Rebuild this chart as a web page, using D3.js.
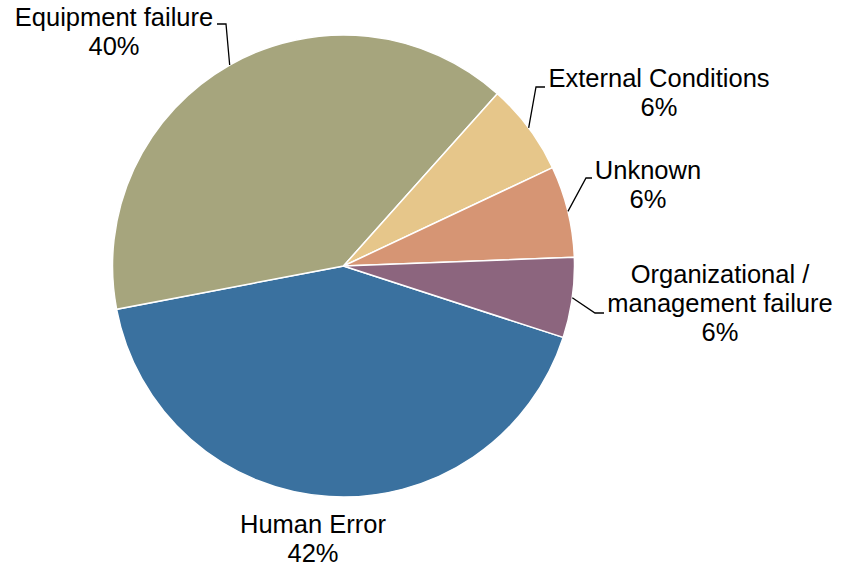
<!DOCTYPE html>
<html>
<head>
<meta charset="utf-8">
<title></title>
<style>
body { margin: 0; background: #fff; }
path.slice {
  stroke: #fff;
  stroke-width: 1.5px;
}
polyline.leader {
  fill: none;
  stroke: #000;
  stroke-width: 1.3px;
}
text {
  fill: #000;
  font-family: "Liberation Sans", Arial, sans-serif;
  font-size: 25.5px;
}
</style>
</head>
<body>
<script src="https://cdn.jsdelivr.net/npm/d3@7"></script>
<script>

// data, in drawing order (clockwise)
var categories = ["Human Error", "Equipment failure", "External Conditions", "Unknown", "Organizational / management failure"];
var shares = [42.0, 39.6, 6.4, 6.4, 5.6];
var colors = ["#3a719f", "#a6a57d", "#e6c68a", "#d69574", "#8c657e"];

// label lines (text split) and where each label sits
var labelLines = [
  ["Human Error"],
  ["Equipment failure"],
  ["External Conditions"],
  ["Unknown"],
  ["Organizational /", "management failure"]
];
var labelPos = [
  {x: 313, y: 533, leader: null},
  {x: 114, y: 26, leader: [[226, 24], [217, 24]]},
  {x: 659, y: 87, leader: [[536, 87], [545, 87]]},
  {x: 648, y: 179, leader: [[586, 178], [592, 178]]},
  {x: 720, y: 283, leader: [[595, 313], [604, 313]]}
];

var width = 853,
    height = 567,
    cx = 343.5,
    cy = 266,
    radius = 231,
    lineH = 29;

var startDeg = 108;
var total = d3.sum(shares);

var svg = d3.select("body").append("svg")
    .attr("width", width)
    .attr("height", height);

var pie = d3.pie()
    .sort(null)
    .startAngle(startDeg * Math.PI / 180)
    .endAngle(startDeg * Math.PI / 180 + 2 * Math.PI);

var arcs = pie(shares);

var arc = d3.arc()
    .innerRadius(0)
    .outerRadius(radius);

var g = svg.append("g")
    .attr("transform", "translate(" + cx + "," + cy + ")");

g.selectAll("path")
    .data(arcs)
    .enter()
    .append("path")
    .attr("class", "slice")
    .attr("d", arc)
    .style("fill", function(d, i) { return colors[i]; });

// leader lines from the slice edge at its mid angle
svg.selectAll("polyline")
    .data(arcs.filter(function(d, i) { return labelPos[i].leader; }))
    .enter()
    .append("polyline")
    .attr("class", "leader")
    .attr("points", function(d) {
      var a = (d.startAngle + d.endAngle) / 2;
      var p0 = [cx + radius * Math.sin(a), cy - radius * Math.cos(a)];
      var pts = [p0].concat(labelPos[d.index].leader);
      return pts.map(function(p) { return p.join(","); }).join(" ");
    });

// labels
var fmt = function(v) { return Math.round(v / total * 100) + "%"; };

var label = svg.selectAll("text.label")
    .data(arcs)
    .enter()
    .append("text")
    .attr("class", "label")
    .attr("text-anchor", "middle")
    .attr("x", function(d) { return labelPos[d.index].x; })
    .attr("y", function(d) { return labelPos[d.index].y; });

label.each(function(d) {
  var t = d3.select(this);
  var lines = labelLines[d.index].concat([fmt(d.data)]);
  lines.forEach(function(s, j) {
    t.append("tspan")
      .attr("x", labelPos[d.index].x)
      .attr("dy", j === 0 ? 0 : lineH)
      .text(s);
  });
});

</script>
</body>
</html>
